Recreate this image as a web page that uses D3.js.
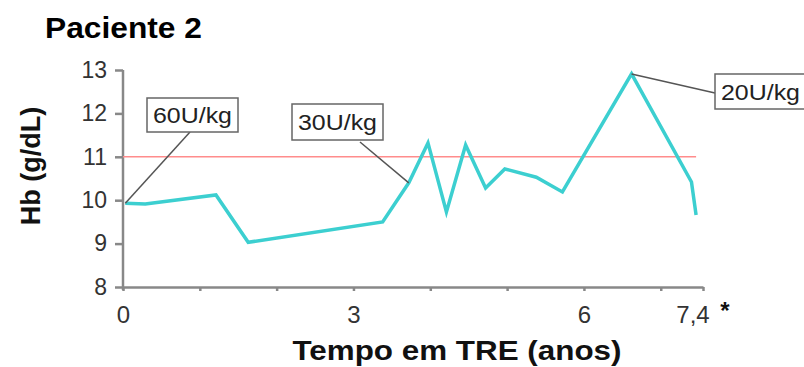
<!DOCTYPE html>
<meta charset="utf-8">
<style>
body { margin: 0; background: #fff; font-family: "Liberation Sans", Arial, sans-serif; }
svg { display: block; }
.tick text { fill: #333; }
</style>
<body>
<svg width="804" height="367"></svg>
<script src="https://d3js.org/d3.v7.min.js"></script>
<script>

// Hb values over time (years on ERT)
var years = [0.03, 0.29, 1.21, 1.63, 3.38, 3.72, 3.97, 4.21, 4.46, 4.72, 4.97, 5.38, 5.72, 6.62, 7.40, 7.46];
var hb    = [9.93, 9.91, 10.12, 9.03, 9.5, 10.4, 11.32, 9.73, 11.27, 10.28, 10.72, 10.53, 10.19, 12.91, 10.42, 9.66];
var yTicks = [8, 9, 10, 11, 12, 13];
var xMajor = [0, 3, 6];
var xMinor = [1, 2, 4, 5, 7];
var lastLabel = "7,4";
var threshold = 11;
// dose labels: which point they point at
var doseLabels = ["60U/kg", "30U/kg", "20U/kg"];
var dosePoints = [0, 5, 13];

var svg = d3.select("svg");

var x = d3.scaleLinear().domain([0, 7.55]).range([123, 703]);
var y = d3.scaleLinear().domain([8, 13]).range([287, 70]);

// title
svg.append("text")
    .attr("x", 45).attr("y", 38)
    .attr("font-size", 29).attr("font-weight", "bold")
    .attr("textLength", 157).attr("lengthAdjust", "spacingAndGlyphs")
    .text("Paciente 2");

// y axis
var yAxis = svg.append("g")
    .attr("transform", "translate(" + x(0) + ",0)")
    .call(d3.axisLeft(y).tickValues(yTicks).tickFormat(d3.format("d"))
        .tickSize(8).tickPadding(8).tickSizeOuter(0));
yAxis.selectAll("text").attr("font-size", 23).attr("font-family", "Liberation Sans, Arial");
yAxis.selectAll("line, path").attr("stroke", "#888").attr("stroke-width", 2.5);
yAxis.select(".domain").attr("d", "M0," + y(13) + "V" + (y(8) + 3));

// x axis
var xAxis = svg.append("g")
    .attr("transform", "translate(0," + y(8) + ")")
    .call(d3.axisBottom(x).tickValues(xMajor.concat(xMinor).concat([7.55]))
        .tickSize(4).tickSizeOuter(0).tickFormat(function (d) {
            return xMajor.indexOf(d) >= 0 ? d : "";
        }));
xAxis.selectAll("line, path").attr("stroke", "#888").attr("stroke-width", 2.5);
xAxis.selectAll("text").attr("font-size", 24).attr("font-family", "Liberation Sans, Arial")
    .attr("y", 0).attr("dy", 36);

svg.append("text")
    .attr("x", x(7.42)).attr("y", 323)
    .attr("text-anchor", "middle").attr("font-size", 24).attr("fill", "#333")
    .text(lastLabel);
svg.append("text")
    .attr("x", x(7.42) + 32).attr("y", 319)
    .attr("text-anchor", "middle").attr("font-size", 24).attr("font-weight", "bold").attr("fill", "#111")
    .text("*");

// axis titles
svg.append("text")
    .attr("x", 457).attr("y", 360)
    .attr("text-anchor", "middle")
    .attr("font-size", 28).attr("font-weight", "bold").attr("fill", "#111")
    .attr("textLength", 329).attr("lengthAdjust", "spacingAndGlyphs")
    .text("Tempo em TRE (anos)");

svg.append("text")
    .attr("transform", "translate(40," + 166 + ") rotate(-90)")
    .attr("text-anchor", "middle")
    .attr("font-size", 27).attr("font-weight", "bold").attr("fill", "#111")
    .text("Hb (g/dL)");

// reference line
svg.append("line")
    .attr("x1", x(0)).attr("x2", x(7.46))
    .attr("y1", y(threshold)).attr("y2", y(threshold))
    .attr("stroke", "#ff8c8c").attr("stroke-width", 1.5);

// data line
var line = d3.line()
    .x(function (d, i) { return x(years[i]); })
    .y(function (d) { return y(d); });

svg.append("path")
    .datum(hb)
    .attr("fill", "none")
    .attr("stroke", "#3ccfd0")
    .attr("stroke-width", 3.5)
    .attr("stroke-linejoin", "miter")
    .attr("d", line);

// dose callouts (box position in px, pointer start in px)
var boxes = [
    {bx: 147, by: 98, bw: 91, bh: 34, px: 190, py: 132},
    {bx: 292, by: 104, bw: 91, bh: 36, px: 360, py: 142},
    {bx: 715, by: 74, bw: 100, bh: 35, px: 715, py: 93}
];

boxes.forEach(function (b, i) {
    var k = dosePoints[i];
    svg.append("line")
        .attr("x1", b.px).attr("y1", b.py)
        .attr("x2", x(years[k])).attr("y2", y(hb[k]))
        .attr("stroke", "#555").attr("stroke-width", 1.5);
    svg.append("rect")
        .attr("x", b.bx).attr("y", b.by)
        .attr("width", b.bw).attr("height", b.bh)
        .attr("fill", "#fff").attr("stroke", "#666").attr("stroke-width", 1.5);
    svg.append("text")
        .attr("x", b.bx + 6).attr("y", b.by + b.bh / 2 + 8)
        .attr("font-size", 22).attr("fill", "#222")
        .attr("textLength", 79).attr("lengthAdjust", "spacingAndGlyphs")
        .text(doseLabels[i]);
});

</script>
</body>
